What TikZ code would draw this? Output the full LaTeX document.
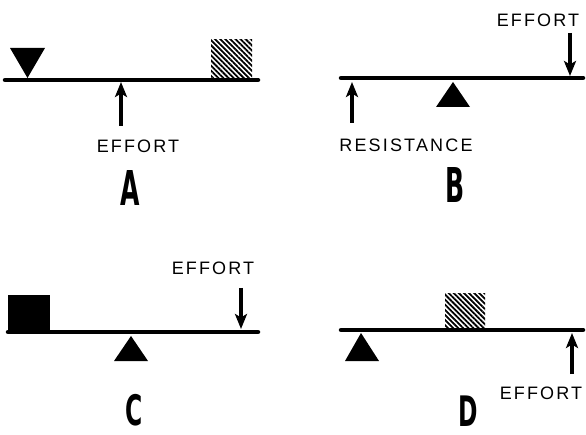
\documentclass[tikz,border=0pt]{standalone}
\usepackage{fontspec}
\newfontfamily\labelfont{Liberation Sans}[LetterSpace=12]
\newfontfamily\tagfont{DejaVu Sans Condensed}
\usepackage{tikz}
\usetikzlibrary{arrows.meta, patterns.meta}

\begin{document}
\begin{tikzpicture}[
  x=1pt, y=-1pt,
  lever/.style={line width=4.5pt, line cap=round},
  force/.style={line width=3.2pt, -{Stealth[length=15pt, width=12pt, inset=3.5pt]}},
  weight/.style={pattern={Lines[angle=-45, distance=3.6pt, line width=1.8pt]}},
  lbl/.style={font=\labelfont\fontsize{18}{18}\selectfont, inner sep=0pt},
  tag/.style={font=\tagfont\bfseries\fontsize{48}{48}\selectfont, inner sep=0pt, xscale=0.58},
  tagsmall/.style={font=\tagfont\bfseries\fontsize{42}{42}\selectfont, inner sep=0pt, xscale=0.62}
]
\useasboundingbox (0,0) rectangle (586,435);

\draw[lever] (5,80) -- (258,80);
\fill (10,48) -- (45,48) -- (27.5,78) -- cycle;
\fill[weight] (211,40) rectangle (252,78);
\coordinate (tailA) at (121,126);
\coordinate (tipA) at (121,82);
\draw[force] (tailA) -- (tipA);
\node[lbl] (effA) at (138,146) {EFFORT};
\node[tag] (tagA) at (130,188) {A};

\draw[lever] (341,78) -- (583,78);
\fill (453,82) -- (470,107) -- (436,107) -- cycle;
\coordinate (tailBr) at (352,123);
\coordinate (tipBr) at (352,82);
\draw[force] (tailBr) -- (tipBr);
\node[lbl] (resB) at (406,145) {RESISTANCE};
\coordinate (tailBe) at (570,33);
\coordinate (tipBe) at (570,76);
\draw[force] (tailBe) -- (tipBe);
\node[lbl] (effB) at (538,20) {EFFORT};
\node[tag] (tagB) at (455,185) {B};

\draw[lever] (8,332) -- (258,332);
\fill (8,295) rectangle (50,331);
\fill (131,336) -- (148,361) -- (114,361) -- cycle;
\coordinate (tailC) at (241,288);
\coordinate (tipC) at (241,329);
\draw[force] (tailC) -- (tipC);
\node[lbl] (effC) at (213,268) {EFFORT};
\node[tagsmall] (tagC) at (134,410) {C};

\draw[lever] (341,330) -- (583,330);
\fill (361,333) -- (379,361) -- (345,361) -- cycle;
\fill[weight] (445,294) rectangle (485,328);
\coordinate (tailD) at (572,374);
\coordinate (tipD) at (572,333);
\draw[force] (tailD) -- (tipD);
\node[lbl] (effD) at (541,393) {EFFORT};
\node[tagsmall] (tagD) at (468,411) {D};
\end{tikzpicture}
\end{document}
